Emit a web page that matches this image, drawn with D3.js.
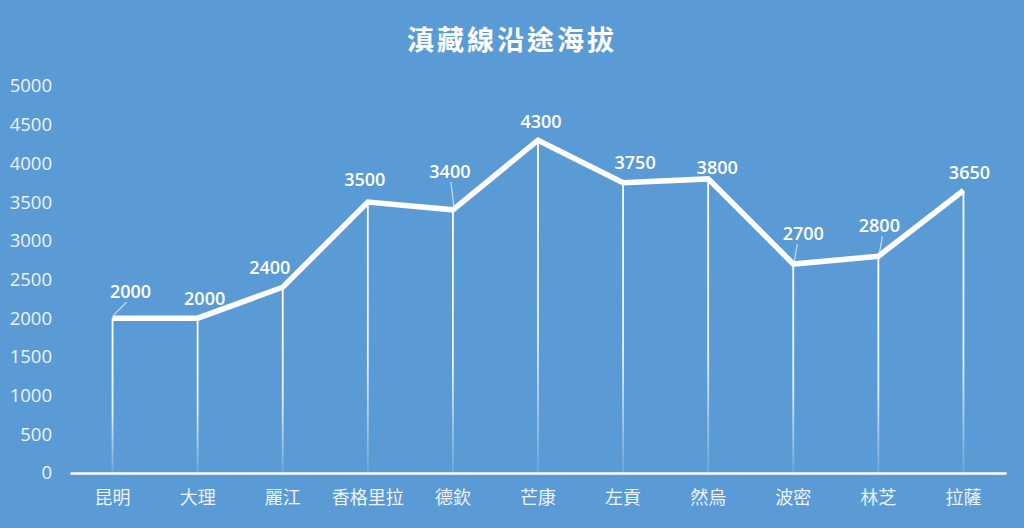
<!DOCTYPE html>
<html><head><meta charset="utf-8">
<script src="https://cdn.jsdelivr.net/npm/d3@7"></script>
<style>
html,body{margin:0;padding:0;background:#5b9bd5;}
svg{display:block;}
</style></head>
<body>
<script>
const categories = ["昆明","大理","麗江","香格里拉","德欽","芒康","左貢","然烏","波密","林芝","拉薩"];
const altitudes = [2000,2000,2400,3500,3400,4300,3750,3800,2700,2800,3650];
const yTicks = [0,500,1000,1500,2000,2500,3000,3500,4000,4500,5000];
const titleText = "滇藏線沿途海拔";
// label offsets (px) relative to each point
const labelDx = [18,7,-13,-3,-3,3,12,9,10,1,6];
const labelDy = [-26,-19,-19,-22,-38,-18,-20,-11,-30,-30,-17];
const leaderIdx = [0,4,8,9];

const W=1024,H=528;
const margin={left:70,right:18};
const svg=d3.select("body").append("svg").attr("width",W).attr("height",H);
svg.append("rect").attr("width",W).attr("height",H).attr("fill","#5b9bd5");

const x=d3.scaleBand().domain(categories).range([margin.left,W-margin.right]);
const y=d3.scaleLinear().domain([0,5000]).range([473,86]);
const cx=d=>x(d)+x.bandwidth()/2;

const defs=svg.append("defs");
const grad=defs.append("linearGradient").attr("id","fade").attr("x1",0).attr("y1",0).attr("x2",0).attr("y2",1);
grad.append("stop").attr("offset","0%").attr("stop-color","#fff").attr("stop-opacity",1);
grad.append("stop").attr("offset","60%").attr("stop-color","#fff").attr("stop-opacity",0.85);
grad.append("stop").attr("offset","100%").attr("stop-color","#fff").attr("stop-opacity",0.1);

svg.append("text").attr("x",512).attr("y",50).attr("text-anchor","middle")
  .attr("fill","#fff").attr("font-family","'Noto Sans CJK TC','Noto Sans CJK SC',sans-serif")
  .attr("font-weight","bold").attr("font-size",27).attr("letter-spacing",3).text(titleText);

// y axis labels
const yAxis=d3.axisLeft(y).tickValues(yTicks).tickFormat(d3.format("d")).tickSize(0).tickPadding(0);
const ya=svg.append("g").attr("transform","translate(52,0)").call(yAxis);
ya.select(".domain").remove();
ya.selectAll("text").attr("fill","#eef3fa").attr("font-size",18.5)
  .attr("font-family","'Open Sans','DejaVu Sans',sans-serif");

// drop lines
svg.append("g").selectAll("rect").data(categories).join("rect")
  .attr("x",d=>cx(d)-0.9).attr("width",1.8)
  .attr("y",(d,i)=>y(altitudes[i])).attr("height",(d,i)=>473-y(altitudes[i]))
  .attr("fill","url(#fade)");

// x axis
const xAxis=d3.axisBottom(x).tickSize(0).tickPadding(18);
const xa=svg.append("g").attr("transform","translate(0,473)").call(xAxis);
xa.select(".domain").attr("stroke","#fff").attr("stroke-width",2.5);
xa.selectAll("text").attr("fill","#eef3fa").attr("font-size",18)
  .attr("font-family","'Noto Sans CJK TC','Noto Sans CJK SC',sans-serif");

// leader lines
svg.append("g").selectAll("line").data(leaderIdx).join("line")
  .attr("x1",i=>cx(categories[i])+1).attr("y1",i=>y(altitudes[i])-3)
  .attr("x2",i=>cx(categories[i])+(i===0?14:(i===4?-2:4))).attr("y2",i=>y(altitudes[i])+labelDy[i]+10)
  .attr("stroke","#c9dcf0").attr("stroke-width",1.2);

// line
const line=d3.line().x((d,i)=>cx(categories[i])).y(d=>y(d));
svg.append("path").datum(altitudes).attr("d",line).attr("fill","none")
  .attr("stroke","#fff").attr("stroke-width",5.5).attr("stroke-linejoin","miter");

// labels
svg.append("g").selectAll("text").data(altitudes).join("text")
  .attr("x",(d,i)=>cx(categories[i])+labelDx[i])
  .attr("y",(d,i)=>y(d)+labelDy[i]+6)
  .attr("text-anchor","middle").attr("fill","#fff").attr("font-size",18).attr("font-weight",600)
  .attr("font-family","'Open Sans','DejaVu Sans',sans-serif")
  .text(d=>d);
</script>
</body></html>
